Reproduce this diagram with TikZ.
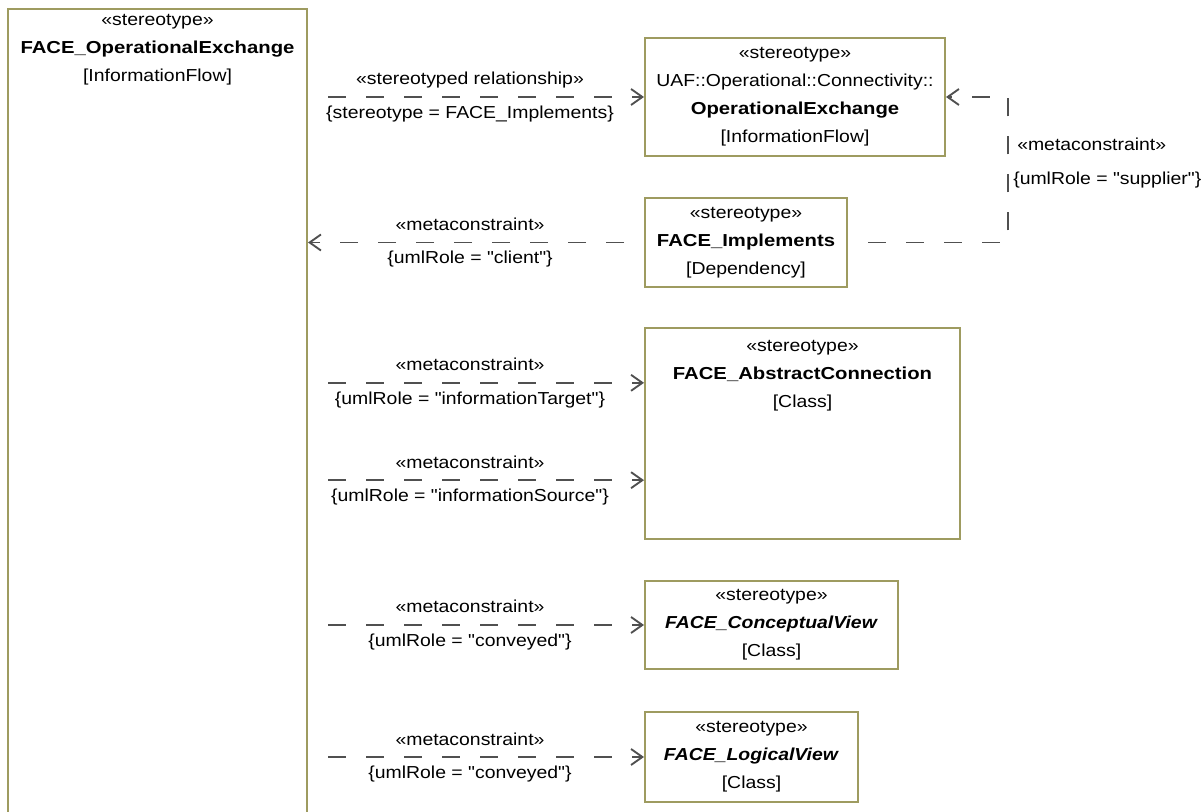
\documentclass[tikz,border=0pt]{standalone}
\usepackage{fontspec}
\setmainfont{Liberation Sans}[Ligatures=TeXOff,FakeStretch=1.12,BoldFeatures={FakeStretch=1.17}]
\usetikzlibrary{arrows.meta}

\definecolor{boxolive}{RGB}{158,155,96}
\definecolor{linkgray}{RGB}{80,80,80}
\newcommand{\umlfont}{\fontsize{13}{21}\selectfont}

\begin{document}
\begin{tikzpicture}[x=0.75pt,y=-0.75pt,
  umlbox/.style={draw=boxolive,line width=1.5pt,fill=white,inner sep=0pt,align=center,font=\umlfont},
  link/.style={draw=linkgray,line width=1.4pt,dash pattern=on 13.5pt off 15pt,dash phase=13.5pt,
    -{Straight Barb[length=8.5pt,width=12pt]}},
  lbl/.style={font=\umlfont,inner sep=0pt,anchor=base},
  uplbl/.style={lbl,midway,yshift=9pt,xshift=-4.5pt},
  dnlbl/.style={lbl,midway,yshift=-16pt,xshift=-4.5pt}]
  \clip (0,0) rectangle (1204,812);
  \fill[white] (0,0) rectangle (1204,812);

  % boxes
  \node[umlbox,minimum width=224.25pt,minimum height=615.75pt] (opexch) at (157.5,419.5) {};
  \node[lbl,anchor=north,align=center] (opexchtitle) at ([yshift=-4.5pt]opexch.north)
    {«stereotype»\\\textbf{FACE\_OperationalExchange}\\{[}InformationFlow{]}};
  \node[umlbox,minimum width=225pt,minimum height=88.5pt] (uafexch) at (795,97)
    {«stereotype»\\UAF::Operational::Connectivity::\\\textbf{OperationalExchange}\\{[}InformationFlow{]}};
  \node[umlbox,minimum width=151.5pt,minimum height=66.75pt] (implements) at (746,242.5)
    {«stereotype»\\\textbf{FACE\_Implements}\\{[}Dependency{]}};
  \node[umlbox,minimum width=236.25pt,minimum height=158.25pt] (abstrconn) at (802.5,433.5) {};
  \node[lbl,anchor=north,align=center] (abstrconntitle) at ([yshift=-10pt]abstrconn.north)
    {«stereotype»\\\textbf{FACE\_AbstractConnection}\\{[}Class{]}};
  \node[umlbox,minimum width=189.75pt,minimum height=66pt] (conceptual) at (771.5,625)
    {«stereotype»\\\textbf{\textit{FACE\_ConceptualView}}\\{[}Class{]}};
  \node[umlbox,minimum width=159.75pt,minimum height=67.5pt] (logical) at (751.5,757)
    {«stereotype»\\\textbf{\textit{FACE\_LogicalView}}\\{[}Class{]}};

  % connectors
  \coordinate (tgtin) at ([yshift=38pt]abstrconn.west);
  \coordinate (srcin) at ([yshift=-35pt]abstrconn.west);
  \coordinate (supbend) at (1008,0);

  \draw[link] (opexch.east |- uafexch.west) -- (uafexch.west)
    node[uplbl] {«stereotyped relationship»}
    node[dnlbl] {\{stereotype = FACE\_Implements\}};
  \draw[link] (implements.west) -- (opexch.east |- implements.west)
    node[uplbl] {«metaconstraint»}
    node[dnlbl] {\{umlRole = "client"\}};
  \draw[link] (implements.east) -- (implements.east -| supbend) |- (uafexch.east);
  \node[lbl,anchor=base west] (supplierst) at (1017,151) {«metaconstraint»};
  \node[lbl,anchor=base west] (supplierrole) at (1013,185) {\{umlRole = "supplier"\}};
  \draw[link] (opexch.east |- tgtin) -- (tgtin)
    node[uplbl] {«metaconstraint»}
    node[dnlbl] {\{umlRole = "informationTarget"\}};
  \draw[link] (opexch.east |- srcin) -- (srcin)
    node[uplbl] {«metaconstraint»}
    node[dnlbl] {\{umlRole = "informationSource"\}};
  \draw[link] (opexch.east |- conceptual.west) -- (conceptual.west)
    node[uplbl] {«metaconstraint»}
    node[dnlbl] {\{umlRole = "conveyed"\}};
  \draw[link] (opexch.east |- logical.west) -- (logical.west)
    node[uplbl] {«metaconstraint»}
    node[dnlbl] {\{umlRole = "conveyed"\}};
\end{tikzpicture}
\end{document}
